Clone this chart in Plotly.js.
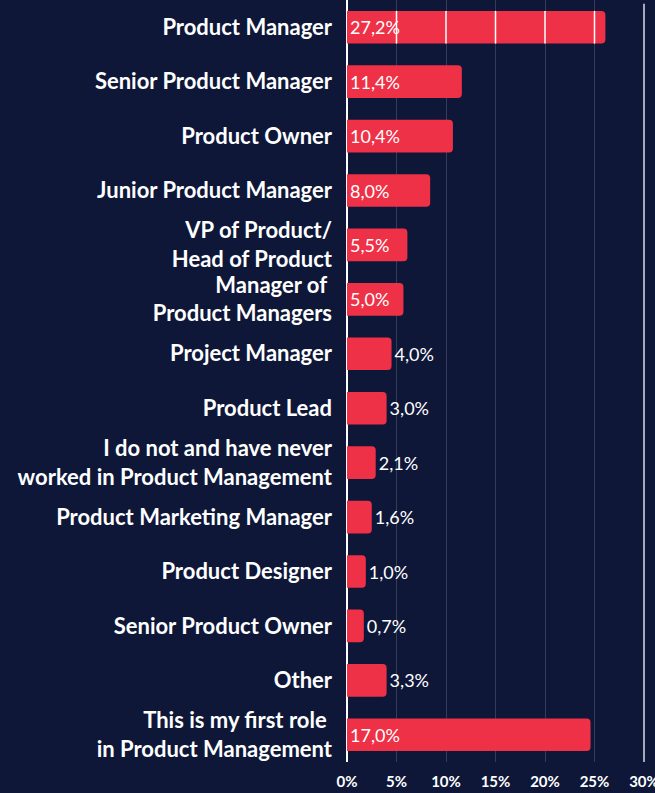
<!DOCTYPE html>
<html>
<head>
<meta charset="utf-8">
<script src="https://cdn.plot.ly/plotly-3.0.1.min.js"></script>
<style>
  html, body { margin: 0; padding: 0; background: #0e1738; }
  #chart { width: 655px; height: 793px; }
</style>
</head>
<body>
<div id="chart"></div>
<script>
// Role categories (top to bottom)
var roles = [
  "Product Manager",
  "Senior Product Manager",
  "Product Owner",
  "Junior Product Manager",
  "VP of Product/<br>Head of Product",
  "Manager of <br>Product Managers",
  "Project Manager",
  "Product Lead",
  "I do not and have never<br>worked in Product Management",
  "Product Marketing Manager",
  "Product Designer",
  "Senior Product Owner",
  "Other",
  "This is my first role <br>in Product Management"
];
// Printed percentage labels
var pctLabels = ["27,2%", "11,4%", "10,4%", "8,0%", "5,5%", "5,0%", "4,0%", "3,0%",
                 "2,1%", "1,6%", "1,0%", "0,7%", "3,3%", "17,0%"];
// Bar lengths as drawn in the picture (axis %)
var barLength = [26.1, 11.6, 10.7, 8.4, 6.1, 5.7, 4.5, 4.0, 2.9, 2.5, 1.9, 1.7, 4.0, 24.6];
// Label placement for each bar
var labelPos = ["inside", "inside", "inside", "inside", "inside", "inside", "outside", "outside",
                "outside", "outside", "outside", "outside", "outside", "inside"];
var xTicks = [0, 5, 10, 15, 20, 25, 30];

var bg = "#0e1738";
var barColor = "#ee3147";

var trace = {
  type: "bar",
  orientation: "h",
  x: barLength,
  y: roles,
  text: pctLabels,
  textposition: labelPos,
  insidetextanchor: "start",
  constraintext: "none",
  textfont: { family: "Lato", size: 18, color: "#ffffff" },
  insidetextfont: { family: "Lato", size: 18, color: "#ffffff" },
  outsidetextfont: { family: "Lato", size: 18, color: "#ffffff" },
  marker: { color: barColor, line: { width: 0 } },
  cliponaxis: false,
  hoverinfo: "none"
};

// white grid segments drawn across the first (longest) bar, as in the reference
var shapes = [];
xTicks.forEach(function (t) {
  if (t > 0 && t < barLength[0]) {
    shapes.push({
      type: "line", xref: "x", yref: "y",
      x0: t, x1: t, y0: -0.3, y1: 0.3,
      line: { color: "#ffffff", width: 1.5 },
      layer: "above"
    });
  }
});
// right border line at 30%
shapes.push({
  type: "line", xref: "paper", yref: "paper",
  x0: 1, x1: 1, y0: 0, y1: 0.995,
  line: { color: "#a6a9b8", width: 2 },
  layer: "below"
});

var layout = {
  width: 655,
  height: 793,
  paper_bgcolor: bg,
  plot_bgcolor: bg,
  margin: { l: 347, r: 11, t: 0, b: 31 },
  showlegend: false,
  bargap: 0.4,
  barcornerradius: 4,
  font: { family: "Lato", color: "#ffffff" },
  xaxis: {
    range: [0, 30],
    tickvals: xTicks,
    ticktext: xTicks.map(function (v) { return v + "%"; }),
    tickfont: { family: "Lato", size: 15, color: "#ffffff", weight: "bold" },
    ticklabeloverflow: "allow",
    showgrid: true,
    gridcolor: "rgba(255,255,255,0.16)",
    gridwidth: 1,
    zeroline: true,
    zerolinecolor: "#ffffff",
    zerolinewidth: 2,
    showline: false,
    ticks: "",
    ticklabelstandoff: 9,
    automargin: false,
    fixedrange: true
  },
  yaxis: {
    type: "category",
    autorange: "reversed",
    tickfont: { family: "Lato", size: 22, color: "#ffffff", weight: "bold" },
    showgrid: false,
    zeroline: false,
    showline: false,
    ticks: "",
    ticklabelstandoff: 14,
    automargin: false,
    fixedrange: true
  },
  shapes: shapes
};

Plotly.newPlot("chart", [trace], layout, { displayModeBar: false, staticPlot: true });
</script>
</body>
</html>
